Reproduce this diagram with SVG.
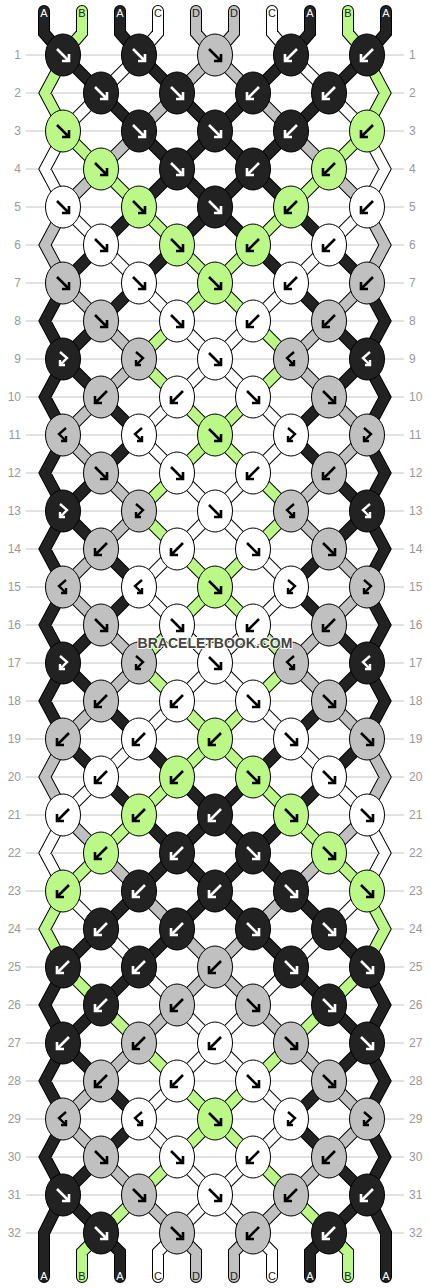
<svg xmlns="http://www.w3.org/2000/svg" width="430" height="1288" viewBox="0 0 430 1288">
<style>
.grid{stroke:#c4c4c4;stroke-width:1;fill:none}
.o{stroke:#000;stroke-width:12;fill:none;stroke-linecap:round;stroke-linejoin:miter}
.t{stroke-width:10;fill:none;stroke-linecap:round;stroke-linejoin:miter}
.tA{stroke:#222}.tB{stroke:#bbf888}.tC{stroke:#fff}.tD{stroke:#c0c0c0}
.kA{fill:#222;color:#fff}.kB{fill:#bbf888;color:#000}.kC{fill:#fff;color:#000}.kD{fill:#c0c0c0;color:#000}
.num{font-family:"Liberation Sans",Arial,sans-serif;font-size:12px;fill:#999}
.nl{text-anchor:end}
.lbl{font-family:"Liberation Sans",Arial,sans-serif;font-size:11px;text-anchor:middle;fill:#222}
.lw{fill:#fff}
.wm{font-family:"Liberation Sans",Arial,sans-serif;font-size:14px;font-weight:bold;text-anchor:middle;fill:#444;stroke:#fff;stroke-width:2;paint-order:stroke}
</style>
<defs>
<ellipse id="E" rx="17.5" ry="21" stroke="#000" stroke-width="1"/>
<path id="F" d="M-6-6L5 5M6-1V6H-1" fill="none" stroke="currentColor" stroke-width="2.6"/>
<path id="B" d="M6-6L-5 5M-6-1V6H1" fill="none" stroke="currentColor" stroke-width="2.6"/>
<path id="FB" d="M-3-7L4-1L-3 6M-3 1V6H2" fill="none" stroke="currentColor" stroke-width="2.4"/>
<path id="BF" d="M3-7L-4-1L3 6M3 1V6H-2" fill="none" stroke="currentColor" stroke-width="2.4"/>
<path id="pA" d="M44 11V33L63 55M120 11V33L139 55M310 11V33L291 55M386 11V33L367 55
M63 55l38 38M139 55l38 38M291 55l-38 38M367 55l-38 38
M101 93l38 38M177 93l38 38M253 93l-38 38M329 93l-38 38
M139 131l38 38M215 131l-38 38M215 131l38 38M291 131l-38 38
M177 169l-38 38M177 169l38 38M253 169l-38 38M253 169l38 38
M139 207l-38 38M215 207l-38 38M215 207l38 38M291 207l38 38
M101 245l-38 38M177 245l-38 38M253 245l38 38M329 245l38 38
M139 283l-38 38M291 283l38 38
M101 321l-38 38M329 321l38 38
M63 359l38 38M367 359l-38 38
M101 397l38 38M329 397l-38 38
M139 435l-38 38M291 435l38 38
M101 473l-38 38M329 473l38 38
M63 511l38 38M367 511l-38 38
M101 549l38 38M329 549l-38 38
M139 587l-38 38M291 587l38 38
M101 625l-38 38M329 625l38 38
M63 663l38 38M367 663l-38 38
M101 701l38 38M329 701l-38 38
M63 739l38 38M139 739l38 38M291 739l-38 38M367 739l-38 38
M101 777l38 38M177 777l38 38M253 777l-38 38M329 777l-38 38
M139 815l38 38M215 815l-38 38M215 815l38 38M291 815l-38 38
M177 853l-38 38M177 853l38 38M253 853l-38 38M253 853l38 38
M139 891l-38 38M215 891l-38 38M215 891l38 38M291 891l38 38
M101 929l-38 38M177 929l-38 38M253 929l38 38M329 929l38 38
M139 967l-38 38M291 967l38 38
M101 1005l-38 38M329 1005l38 38
M63 1043l38 38M367 1043l-38 38
M101 1081l38 38M329 1081l-38 38
M139 1119l-38 38M291 1119l38 38
M101 1157l-38 38M329 1157l38 38
M63 1195l38 38M367 1195l-38 38
M101 1233L120 1252V1277M329 1233L310 1252V1277
M61 291L45 321L61 351M369 291L385 321L369 351
M61 367L45 397L61 427M369 367L385 397L369 427
M61 443L45 473L61 503M369 443L385 473L369 503
M61 519L45 549L61 579M369 519L385 549L369 579
M61 595L45 625L61 655M369 595L385 625L369 655
M61 671L45 701L61 731M369 671L385 701L369 731
M61 975L45 1005L61 1035M369 975L385 1005L369 1035
M61 1051L45 1081L61 1111M369 1051L385 1081L369 1111
M61 1127L45 1157L61 1187M369 1127L385 1157L369 1187
M63 1195L44 1233V1277M367 1195L386 1233V1277"/>
<path id="pB" d="M82 11V33L63 55M348 11V33L367 55
M63 131l38 38M367 131l-38 38
M101 169l38 38M329 169l-38 38
M139 207l38 38M291 207l-38 38
M177 245l38 38M253 245l-38 38
M215 283l-38 38M215 283l38 38
M177 321l-38 38M253 321l38 38
M139 359l38 38M291 359l-38 38
M177 397l38 38M253 397l-38 38
M215 435l-38 38M215 435l38 38
M177 473l-38 38M253 473l38 38
M139 511l38 38M291 511l-38 38
M177 549l38 38M253 549l-38 38
M215 587l-38 38M215 587l38 38
M177 625l-38 38M253 625l38 38
M139 663l38 38M291 663l-38 38
M177 701l38 38M253 701l-38 38
M215 739l-38 38M215 739l38 38
M177 777l-38 38M253 777l38 38
M139 815l-38 38M291 815l38 38
M101 853l-38 38M329 853l38 38
M63 967l38 38M367 967l-38 38
M101 1005l38 38M329 1005l-38 38
M139 1043l38 38M291 1043l-38 38
M177 1081l38 38M253 1081l-38 38
M215 1119l-38 38M215 1119l38 38
M177 1157l-38 38M253 1157l38 38
M139 1195l-38 38M291 1195l38 38
M101 1233L82 1252V1277M329 1233L348 1252V1277
M61 63L45 93L61 123M369 63L385 93L369 123
M61 899L45 929L61 959M369 899L385 929L369 959"/>
<path id="pC" d="M158 11V33L139 55M272 11V33L291 55
M139 55l-38 38M291 55l38 38
M101 93l-38 38M329 93l38 38
M63 207l38 38M367 207l-38 38
M101 245l38 38M329 245l-38 38
M139 283l38 38M291 283l-38 38
M177 321l38 38M253 321l-38 38
M215 359l-38 38M215 359l38 38
M177 397l-38 38M253 397l38 38
M139 435l38 38M291 435l-38 38
M177 473l38 38M253 473l-38 38
M215 511l-38 38M215 511l38 38
M177 549l-38 38M253 549l38 38
M139 587l38 38M291 587l-38 38
M177 625l38 38M253 625l-38 38
M215 663l-38 38M215 663l38 38
M177 701l-38 38M253 701l38 38
M139 739l-38 38M291 739l38 38
M101 777l-38 38M329 777l38 38
M63 891l38 38M367 891l-38 38
M101 929l38 38M329 929l-38 38
M139 967l38 38M291 967l-38 38
M177 1005l38 38M253 1005l-38 38
M215 1043l-38 38M215 1043l38 38
M177 1081l-38 38M253 1081l38 38
M139 1119l38 38M291 1119l-38 38
M177 1157l38 38M253 1157l-38 38
M215 1195l-38 38M215 1195l38 38
M177 1233L158 1252V1277M253 1233L272 1252V1277
M61 139L45 169L61 199M369 139L385 169L369 199
M61 823L45 853L61 883M369 823L385 853L369 883"/>
<path id="pD" d="M196 11V33L215 55M234 11V33L215 55
M215 55l-38 38M215 55l38 38
M177 93l-38 38M253 93l38 38
M139 131l-38 38M291 131l38 38
M101 169l-38 38M329 169l38 38
M63 283l38 38M367 283l-38 38
M101 321l38 38M329 321l-38 38
M139 359l-38 38M291 359l38 38
M101 397l-38 38M329 397l38 38
M63 435l38 38M367 435l-38 38
M101 473l38 38M329 473l-38 38
M139 511l-38 38M291 511l38 38
M101 549l-38 38M329 549l38 38
M63 587l38 38M367 587l-38 38
M101 625l38 38M329 625l-38 38
M139 663l-38 38M291 663l38 38
M101 701l-38 38M329 701l38 38
M63 815l38 38M367 815l-38 38
M101 853l38 38M329 853l-38 38
M139 891l38 38M291 891l-38 38
M177 929l38 38M253 929l-38 38
M215 967l-38 38M215 967l38 38
M177 1005l-38 38M253 1005l38 38
M139 1043l-38 38M291 1043l38 38
M101 1081l-38 38M329 1081l38 38
M63 1119l38 38M367 1119l-38 38
M101 1157l38 38M329 1157l-38 38
M139 1195l38 38M291 1195l-38 38
M177 1233L196 1252V1277M253 1233L234 1252V1277
M61 215L45 245L61 275M369 215L385 245L369 275
M61 747L45 777L61 807M369 747L385 777L369 807"/>
</defs>
<rect width="430" height="1288" fill="#fff"/>
<path class="grid" d="M26 55H404M26 93H404M26 131H404M26 169H404M26 207H404M26 245H404M26 283H404M26 321H404M26 359H404M26 397H404M26 435H404M26 473H404M26 511H404M26 549H404M26 587H404M26 625H404M26 663H404M26 701H404M26 739H404M26 777H404M26 815H404M26 853H404M26 891H404M26 929H404M26 967H404M26 1005H404M26 1043H404M26 1081H404M26 1119H404M26 1157H404M26 1195H404M26 1233H404"/>
<g id="rownumbers" class="num">
<g class="nl"><text x="21" y="59.3">1</text><text x="21" y="97.3">2</text><text x="21" y="135.3">3</text><text x="21" y="173.3">4</text><text x="21" y="211.3">5</text><text x="21" y="249.3">6</text><text x="21" y="287.3">7</text><text x="21" y="325.3">8</text><text x="21" y="363.3">9</text><text x="21" y="401.3">10</text><text x="21" y="439.3">11</text><text x="21" y="477.3">12</text><text x="21" y="515.3">13</text><text x="21" y="553.3">14</text><text x="21" y="591.3">15</text><text x="21" y="629.3">16</text><text x="21" y="667.3">17</text><text x="21" y="705.3">18</text><text x="21" y="743.3">19</text><text x="21" y="781.3">20</text><text x="21" y="819.3">21</text><text x="21" y="857.3">22</text><text x="21" y="895.3">23</text><text x="21" y="933.3">24</text><text x="21" y="971.3">25</text><text x="21" y="1009.3">26</text><text x="21" y="1047.3">27</text><text x="21" y="1085.3">28</text><text x="21" y="1123.3">29</text><text x="21" y="1161.3">30</text><text x="21" y="1199.3">31</text><text x="21" y="1237.3">32</text></g>
<g><text x="409" y="59.3">1</text><text x="409" y="97.3">2</text><text x="409" y="135.3">3</text><text x="409" y="173.3">4</text><text x="409" y="211.3">5</text><text x="409" y="249.3">6</text><text x="409" y="287.3">7</text><text x="409" y="325.3">8</text><text x="409" y="363.3">9</text><text x="409" y="401.3">10</text><text x="409" y="439.3">11</text><text x="409" y="477.3">12</text><text x="409" y="515.3">13</text><text x="409" y="553.3">14</text><text x="409" y="591.3">15</text><text x="409" y="629.3">16</text><text x="409" y="667.3">17</text><text x="409" y="705.3">18</text><text x="409" y="743.3">19</text><text x="409" y="781.3">20</text><text x="409" y="819.3">21</text><text x="409" y="857.3">22</text><text x="409" y="895.3">23</text><text x="409" y="933.3">24</text><text x="409" y="971.3">25</text><text x="409" y="1009.3">26</text><text x="409" y="1047.3">27</text><text x="409" y="1085.3">28</text><text x="409" y="1123.3">29</text><text x="409" y="1161.3">30</text><text x="409" y="1199.3">31</text><text x="409" y="1237.3">32</text></g>
</g>
<g id="threads">
<use href="#pA" class="o"/><use href="#pB" class="o"/><use href="#pC" class="o"/><use href="#pD" class="o"/>
<use href="#pA" class="t tA"/><use href="#pB" class="t tB"/><use href="#pC" class="t tC"/><use href="#pD" class="t tD"/>
</g>
<g id="knots">
<g id="k1-1" class="kA" transform="translate(63 55)"><use href="#E"/><use href="#F"/></g>
<g id="k1-2" class="kA" transform="translate(139 55)"><use href="#E"/><use href="#F"/></g>
<g id="k1-3" class="kD" transform="translate(215 55)"><use href="#E"/><use href="#F"/></g>
<g id="k1-4" class="kA" transform="translate(291 55)"><use href="#E"/><use href="#B"/></g>
<g id="k1-5" class="kA" transform="translate(367 55)"><use href="#E"/><use href="#B"/></g>
<g id="k2-1" class="kA" transform="translate(101 93)"><use href="#E"/><use href="#F"/></g>
<g id="k2-2" class="kA" transform="translate(177 93)"><use href="#E"/><use href="#F"/></g>
<g id="k2-3" class="kA" transform="translate(253 93)"><use href="#E"/><use href="#B"/></g>
<g id="k2-4" class="kA" transform="translate(329 93)"><use href="#E"/><use href="#B"/></g>
<g id="k3-1" class="kB" transform="translate(63 131)"><use href="#E"/><use href="#F"/></g>
<g id="k3-2" class="kA" transform="translate(139 131)"><use href="#E"/><use href="#F"/></g>
<g id="k3-3" class="kA" transform="translate(215 131)"><use href="#E"/><use href="#F"/></g>
<g id="k3-4" class="kA" transform="translate(291 131)"><use href="#E"/><use href="#B"/></g>
<g id="k3-5" class="kB" transform="translate(367 131)"><use href="#E"/><use href="#B"/></g>
<g id="k4-1" class="kB" transform="translate(101 169)"><use href="#E"/><use href="#F"/></g>
<g id="k4-2" class="kA" transform="translate(177 169)"><use href="#E"/><use href="#F"/></g>
<g id="k4-3" class="kA" transform="translate(253 169)"><use href="#E"/><use href="#B"/></g>
<g id="k4-4" class="kB" transform="translate(329 169)"><use href="#E"/><use href="#B"/></g>
<g id="k5-1" class="kC" transform="translate(63 207)"><use href="#E"/><use href="#F"/></g>
<g id="k5-2" class="kB" transform="translate(139 207)"><use href="#E"/><use href="#F"/></g>
<g id="k5-3" class="kA" transform="translate(215 207)"><use href="#E"/><use href="#F"/></g>
<g id="k5-4" class="kB" transform="translate(291 207)"><use href="#E"/><use href="#B"/></g>
<g id="k5-5" class="kC" transform="translate(367 207)"><use href="#E"/><use href="#B"/></g>
<g id="k6-1" class="kC" transform="translate(101 245)"><use href="#E"/><use href="#F"/></g>
<g id="k6-2" class="kB" transform="translate(177 245)"><use href="#E"/><use href="#F"/></g>
<g id="k6-3" class="kB" transform="translate(253 245)"><use href="#E"/><use href="#B"/></g>
<g id="k6-4" class="kC" transform="translate(329 245)"><use href="#E"/><use href="#B"/></g>
<g id="k7-1" class="kD" transform="translate(63 283)"><use href="#E"/><use href="#F"/></g>
<g id="k7-2" class="kC" transform="translate(139 283)"><use href="#E"/><use href="#F"/></g>
<g id="k7-3" class="kB" transform="translate(215 283)"><use href="#E"/><use href="#F"/></g>
<g id="k7-4" class="kC" transform="translate(291 283)"><use href="#E"/><use href="#B"/></g>
<g id="k7-5" class="kD" transform="translate(367 283)"><use href="#E"/><use href="#B"/></g>
<g id="k8-1" class="kD" transform="translate(101 321)"><use href="#E"/><use href="#F"/></g>
<g id="k8-2" class="kC" transform="translate(177 321)"><use href="#E"/><use href="#F"/></g>
<g id="k8-3" class="kC" transform="translate(253 321)"><use href="#E"/><use href="#B"/></g>
<g id="k8-4" class="kD" transform="translate(329 321)"><use href="#E"/><use href="#B"/></g>
<g id="k9-1" class="kA" transform="translate(63 359)"><use href="#E"/><use href="#FB"/></g>
<g id="k9-2" class="kD" transform="translate(139 359)"><use href="#E"/><use href="#FB"/></g>
<g id="k9-3" class="kC" transform="translate(215 359)"><use href="#E"/><use href="#F"/></g>
<g id="k9-4" class="kD" transform="translate(291 359)"><use href="#E"/><use href="#BF"/></g>
<g id="k9-5" class="kA" transform="translate(367 359)"><use href="#E"/><use href="#BF"/></g>
<g id="k10-1" class="kD" transform="translate(101 397)"><use href="#E"/><use href="#B"/></g>
<g id="k10-2" class="kC" transform="translate(177 397)"><use href="#E"/><use href="#B"/></g>
<g id="k10-3" class="kC" transform="translate(253 397)"><use href="#E"/><use href="#F"/></g>
<g id="k10-4" class="kD" transform="translate(329 397)"><use href="#E"/><use href="#F"/></g>
<g id="k11-1" class="kD" transform="translate(63 435)"><use href="#E"/><use href="#BF"/></g>
<g id="k11-2" class="kC" transform="translate(139 435)"><use href="#E"/><use href="#BF"/></g>
<g id="k11-3" class="kB" transform="translate(215 435)"><use href="#E"/><use href="#F"/></g>
<g id="k11-4" class="kC" transform="translate(291 435)"><use href="#E"/><use href="#FB"/></g>
<g id="k11-5" class="kD" transform="translate(367 435)"><use href="#E"/><use href="#FB"/></g>
<g id="k12-1" class="kD" transform="translate(101 473)"><use href="#E"/><use href="#F"/></g>
<g id="k12-2" class="kC" transform="translate(177 473)"><use href="#E"/><use href="#F"/></g>
<g id="k12-3" class="kC" transform="translate(253 473)"><use href="#E"/><use href="#B"/></g>
<g id="k12-4" class="kD" transform="translate(329 473)"><use href="#E"/><use href="#B"/></g>
<g id="k13-1" class="kA" transform="translate(63 511)"><use href="#E"/><use href="#FB"/></g>
<g id="k13-2" class="kD" transform="translate(139 511)"><use href="#E"/><use href="#FB"/></g>
<g id="k13-3" class="kC" transform="translate(215 511)"><use href="#E"/><use href="#F"/></g>
<g id="k13-4" class="kD" transform="translate(291 511)"><use href="#E"/><use href="#BF"/></g>
<g id="k13-5" class="kA" transform="translate(367 511)"><use href="#E"/><use href="#BF"/></g>
<g id="k14-1" class="kD" transform="translate(101 549)"><use href="#E"/><use href="#B"/></g>
<g id="k14-2" class="kC" transform="translate(177 549)"><use href="#E"/><use href="#B"/></g>
<g id="k14-3" class="kC" transform="translate(253 549)"><use href="#E"/><use href="#F"/></g>
<g id="k14-4" class="kD" transform="translate(329 549)"><use href="#E"/><use href="#F"/></g>
<g id="k15-1" class="kD" transform="translate(63 587)"><use href="#E"/><use href="#BF"/></g>
<g id="k15-2" class="kC" transform="translate(139 587)"><use href="#E"/><use href="#BF"/></g>
<g id="k15-3" class="kB" transform="translate(215 587)"><use href="#E"/><use href="#F"/></g>
<g id="k15-4" class="kC" transform="translate(291 587)"><use href="#E"/><use href="#FB"/></g>
<g id="k15-5" class="kD" transform="translate(367 587)"><use href="#E"/><use href="#FB"/></g>
<g id="k16-1" class="kD" transform="translate(101 625)"><use href="#E"/><use href="#F"/></g>
<g id="k16-2" class="kC" transform="translate(177 625)"><use href="#E"/><use href="#F"/></g>
<g id="k16-3" class="kC" transform="translate(253 625)"><use href="#E"/><use href="#B"/></g>
<g id="k16-4" class="kD" transform="translate(329 625)"><use href="#E"/><use href="#B"/></g>
<g id="k17-1" class="kA" transform="translate(63 663)"><use href="#E"/><use href="#FB"/></g>
<g id="k17-2" class="kD" transform="translate(139 663)"><use href="#E"/><use href="#FB"/></g>
<g id="k17-3" class="kC" transform="translate(215 663)"><use href="#E"/><use href="#F"/></g>
<g id="k17-4" class="kD" transform="translate(291 663)"><use href="#E"/><use href="#BF"/></g>
<g id="k17-5" class="kA" transform="translate(367 663)"><use href="#E"/><use href="#BF"/></g>
<g id="k18-1" class="kD" transform="translate(101 701)"><use href="#E"/><use href="#B"/></g>
<g id="k18-2" class="kC" transform="translate(177 701)"><use href="#E"/><use href="#B"/></g>
<g id="k18-3" class="kC" transform="translate(253 701)"><use href="#E"/><use href="#F"/></g>
<g id="k18-4" class="kD" transform="translate(329 701)"><use href="#E"/><use href="#F"/></g>
<g id="k19-1" class="kD" transform="translate(63 739)"><use href="#E"/><use href="#B"/></g>
<g id="k19-2" class="kC" transform="translate(139 739)"><use href="#E"/><use href="#B"/></g>
<g id="k19-3" class="kB" transform="translate(215 739)"><use href="#E"/><use href="#B"/></g>
<g id="k19-4" class="kC" transform="translate(291 739)"><use href="#E"/><use href="#F"/></g>
<g id="k19-5" class="kD" transform="translate(367 739)"><use href="#E"/><use href="#F"/></g>
<g id="k20-1" class="kC" transform="translate(101 777)"><use href="#E"/><use href="#B"/></g>
<g id="k20-2" class="kB" transform="translate(177 777)"><use href="#E"/><use href="#B"/></g>
<g id="k20-3" class="kB" transform="translate(253 777)"><use href="#E"/><use href="#F"/></g>
<g id="k20-4" class="kC" transform="translate(329 777)"><use href="#E"/><use href="#F"/></g>
<g id="k21-1" class="kC" transform="translate(63 815)"><use href="#E"/><use href="#B"/></g>
<g id="k21-2" class="kB" transform="translate(139 815)"><use href="#E"/><use href="#B"/></g>
<g id="k21-3" class="kA" transform="translate(215 815)"><use href="#E"/><use href="#B"/></g>
<g id="k21-4" class="kB" transform="translate(291 815)"><use href="#E"/><use href="#F"/></g>
<g id="k21-5" class="kC" transform="translate(367 815)"><use href="#E"/><use href="#F"/></g>
<g id="k22-1" class="kB" transform="translate(101 853)"><use href="#E"/><use href="#B"/></g>
<g id="k22-2" class="kA" transform="translate(177 853)"><use href="#E"/><use href="#B"/></g>
<g id="k22-3" class="kA" transform="translate(253 853)"><use href="#E"/><use href="#F"/></g>
<g id="k22-4" class="kB" transform="translate(329 853)"><use href="#E"/><use href="#F"/></g>
<g id="k23-1" class="kB" transform="translate(63 891)"><use href="#E"/><use href="#B"/></g>
<g id="k23-2" class="kA" transform="translate(139 891)"><use href="#E"/><use href="#B"/></g>
<g id="k23-3" class="kA" transform="translate(215 891)"><use href="#E"/><use href="#B"/></g>
<g id="k23-4" class="kA" transform="translate(291 891)"><use href="#E"/><use href="#F"/></g>
<g id="k23-5" class="kB" transform="translate(367 891)"><use href="#E"/><use href="#F"/></g>
<g id="k24-1" class="kA" transform="translate(101 929)"><use href="#E"/><use href="#B"/></g>
<g id="k24-2" class="kA" transform="translate(177 929)"><use href="#E"/><use href="#B"/></g>
<g id="k24-3" class="kA" transform="translate(253 929)"><use href="#E"/><use href="#F"/></g>
<g id="k24-4" class="kA" transform="translate(329 929)"><use href="#E"/><use href="#F"/></g>
<g id="k25-1" class="kA" transform="translate(63 967)"><use href="#E"/><use href="#B"/></g>
<g id="k25-2" class="kA" transform="translate(139 967)"><use href="#E"/><use href="#B"/></g>
<g id="k25-3" class="kD" transform="translate(215 967)"><use href="#E"/><use href="#B"/></g>
<g id="k25-4" class="kA" transform="translate(291 967)"><use href="#E"/><use href="#F"/></g>
<g id="k25-5" class="kA" transform="translate(367 967)"><use href="#E"/><use href="#F"/></g>
<g id="k26-1" class="kA" transform="translate(101 1005)"><use href="#E"/><use href="#B"/></g>
<g id="k26-2" class="kD" transform="translate(177 1005)"><use href="#E"/><use href="#B"/></g>
<g id="k26-3" class="kD" transform="translate(253 1005)"><use href="#E"/><use href="#F"/></g>
<g id="k26-4" class="kA" transform="translate(329 1005)"><use href="#E"/><use href="#F"/></g>
<g id="k27-1" class="kA" transform="translate(63 1043)"><use href="#E"/><use href="#B"/></g>
<g id="k27-2" class="kD" transform="translate(139 1043)"><use href="#E"/><use href="#B"/></g>
<g id="k27-3" class="kC" transform="translate(215 1043)"><use href="#E"/><use href="#B"/></g>
<g id="k27-4" class="kD" transform="translate(291 1043)"><use href="#E"/><use href="#F"/></g>
<g id="k27-5" class="kA" transform="translate(367 1043)"><use href="#E"/><use href="#F"/></g>
<g id="k28-1" class="kD" transform="translate(101 1081)"><use href="#E"/><use href="#B"/></g>
<g id="k28-2" class="kC" transform="translate(177 1081)"><use href="#E"/><use href="#B"/></g>
<g id="k28-3" class="kC" transform="translate(253 1081)"><use href="#E"/><use href="#F"/></g>
<g id="k28-4" class="kD" transform="translate(329 1081)"><use href="#E"/><use href="#F"/></g>
<g id="k29-1" class="kD" transform="translate(63 1119)"><use href="#E"/><use href="#BF"/></g>
<g id="k29-2" class="kC" transform="translate(139 1119)"><use href="#E"/><use href="#BF"/></g>
<g id="k29-3" class="kB" transform="translate(215 1119)"><use href="#E"/><use href="#F"/></g>
<g id="k29-4" class="kC" transform="translate(291 1119)"><use href="#E"/><use href="#FB"/></g>
<g id="k29-5" class="kD" transform="translate(367 1119)"><use href="#E"/><use href="#FB"/></g>
<g id="k30-1" class="kD" transform="translate(101 1157)"><use href="#E"/><use href="#F"/></g>
<g id="k30-2" class="kC" transform="translate(177 1157)"><use href="#E"/><use href="#F"/></g>
<g id="k30-3" class="kC" transform="translate(253 1157)"><use href="#E"/><use href="#B"/></g>
<g id="k30-4" class="kD" transform="translate(329 1157)"><use href="#E"/><use href="#B"/></g>
<g id="k31-1" class="kA" transform="translate(63 1195)"><use href="#E"/><use href="#F"/></g>
<g id="k31-2" class="kD" transform="translate(139 1195)"><use href="#E"/><use href="#F"/></g>
<g id="k31-3" class="kC" transform="translate(215 1195)"><use href="#E"/><use href="#F"/></g>
<g id="k31-4" class="kD" transform="translate(291 1195)"><use href="#E"/><use href="#B"/></g>
<g id="k31-5" class="kA" transform="translate(367 1195)"><use href="#E"/><use href="#B"/></g>
<g id="k32-1" class="kA" transform="translate(101 1233)"><use href="#E"/><use href="#F"/></g>
<g id="k32-2" class="kD" transform="translate(177 1233)"><use href="#E"/><use href="#F"/></g>
<g id="k32-3" class="kD" transform="translate(253 1233)"><use href="#E"/><use href="#B"/></g>
<g id="k32-4" class="kA" transform="translate(329 1233)"><use href="#E"/><use href="#B"/></g>
</g>
<g id="string-labels" class="lbl">
<text x="44" y="16.7" class="lw">A</text><text x="82" y="16.7">B</text><text x="120" y="16.7" class="lw">A</text><text x="158" y="16.7">C</text><text x="196" y="16.7">D</text><text x="234" y="16.7">D</text><text x="272" y="16.7">C</text><text x="310" y="16.7" class="lw">A</text><text x="348" y="16.7">B</text><text x="386" y="16.7" class="lw">A</text>
<text x="44" y="1280" class="lw">A</text><text x="82" y="1280">B</text><text x="120" y="1280" class="lw">A</text><text x="158" y="1280">C</text><text x="196" y="1280">D</text><text x="234" y="1280">D</text><text x="272" y="1280">C</text><text x="310" y="1280" class="lw">A</text><text x="348" y="1280">B</text><text x="386" y="1280" class="lw">A</text>
</g>
<text class="wm" x="215" y="648">BRACELETBOOK.COM</text>
</svg>
